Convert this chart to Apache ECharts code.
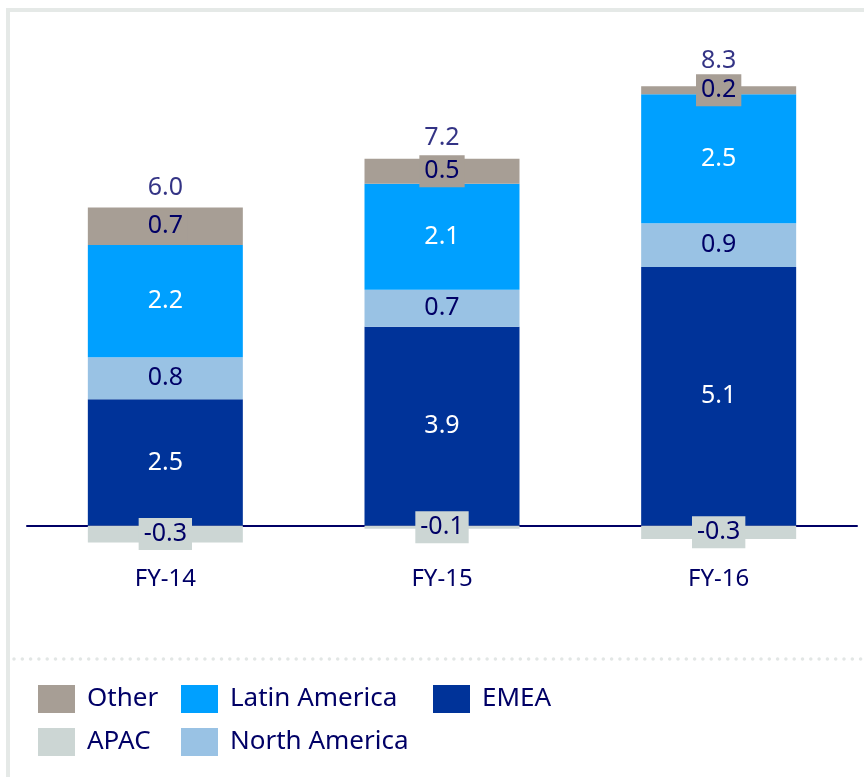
<!DOCTYPE html>
<html>
<head>
<meta charset="utf-8">
<script src="https://cdn.jsdelivr.net/npm/echarts@6/dist/echarts.min.js"></script>
<style>
  html, body { margin: 0; padding: 0; background: #fff; }
  #chart { width: 864px; height: 777px; }
</style>
</head>
<body>
<div id="chart"></div>
<script>
// values (labels are shown rounded to one decimal)
const years = ['FY-14', 'FY-15', 'FY-16']
const emea = [2.49, 3.92, 5.10]
const northAmerica = [0.83, 0.73, 0.86]
const latinAmerica = [2.21, 2.09, 2.54]
const other = [0.74, 0.49, 0.16]
const apac = [-0.33, -0.06, -0.26]
const totals = [6.0, 7.2, 8.3]

const navy = '#000066'
const fontFamily = '"Noto Sans", "DejaVu Sans", sans-serif'

const chart = echarts.init(document.getElementById('chart'))

function barSeries(name, data, color, labelColor, withBox) {
  const label = {
    show: true,
    position: 'inside',
    color: labelColor,
    fontSize: 25,
    fontFamily: fontFamily,
    formatter: p => p.value.toFixed(1)
  }
  if (withBox) {
    label.backgroundColor = color
    label.padding = [4, 5, 3, 5]
  }
  return {
    name: name,
    type: 'bar',
    stack: 'total',
    barWidth: 155,
    data: data,
    itemStyle: { color: color },
    label: label
  }
}

// top of the positive stack, where the total label sits
const stackTop = years.map((y, i) => emea[i] + northAmerica[i] + latinAmerica[i] + other[i])
const totalDistance = [7, 8, 13]

const legendText = {
  color: navy,
  fontSize: 26,
  fontFamily: fontFamily,
  padding: [0, 0, 0, 7]
}

const legendBase = {
  orient: 'vertical',
  top: 685,
  padding: 0,
  icon: 'rect',
  itemWidth: 37,
  itemHeight: 28,
  itemGap: 15,
  selectedMode: false,
  textStyle: legendText
}

const option = {
  animation: false,
  backgroundColor: '#fff',
  grid: {
    left: 27,
    right: 7,
    top: 69,
    bottom: 231
  },
  legend: [
    Object.assign({ left: 38, data: ['Other', 'APAC'] }, legendBase),
    Object.assign({ left: 181, data: ['Latin America', 'North America'] }, legendBase),
    Object.assign({ left: 433, data: ['EMEA'] }, legendBase)
  ],
  xAxis: {
    type: 'category',
    data: years,
    axisLine: {
      onZero: true,
      lineStyle: { color: '#000066', width: 2 }
    },
    axisTick: { show: false },
    axisLabel: {
      color: navy,
      fontSize: 24,
      fontFamily: fontFamily,
      margin: 21
    }
  },
  yAxis: {
    type: 'value',
    min: -0.4,
    max: 9,
    show: false,
    splitLine: { show: false }
  },
  series: [
    barSeries('EMEA', emea, '#003399', '#ffffff', false),
    barSeries('North America', northAmerica, '#99c2e4', navy, false),
    barSeries('Latin America', latinAmerica, '#00a0ff', '#ffffff', false),
    barSeries('Other', other, '#a79e95', navy, true),
    barSeries('APAC', apac, '#ccd6d4', navy, true),
    {
      name: 'Total',
      type: 'scatter',
      symbolSize: 0,
      z: 10,
      data: stackTop.map((v, i) => ({
        value: v,
        label: { distance: totalDistance[i] }
      })),
      label: {
        show: true,
        position: 'top',
        color: navy,
        fontSize: 25,
        fontFamily: fontFamily,
        formatter: p => totals[p.dataIndex].toFixed(1)
      }
    }
  ],
  graphic: [
    // light frame on the left and top
    {
      type: 'line',
      shape: { x1: 8, y1: 8, x2: 8, y2: 777 },
      style: { stroke: '#e5e9e7', lineWidth: 4 }
    },
    {
      type: 'line',
      shape: { x1: 6, y1: 10, x2: 864, y2: 10 },
      style: { stroke: '#e5e9e7', lineWidth: 4 }
    },
    // dotted separator above the legend
    {
      type: 'line',
      shape: { x1: 14, y1: 659, x2: 864, y2: 659 },
      style: {
        stroke: '#e2e6e5',
        lineWidth: 3.5,
        lineCap: 'round',
        lineDash: [0, 8.3]
      }
    }
  ]
}

chart.setOption(option)
</script>
</body>
</html>
